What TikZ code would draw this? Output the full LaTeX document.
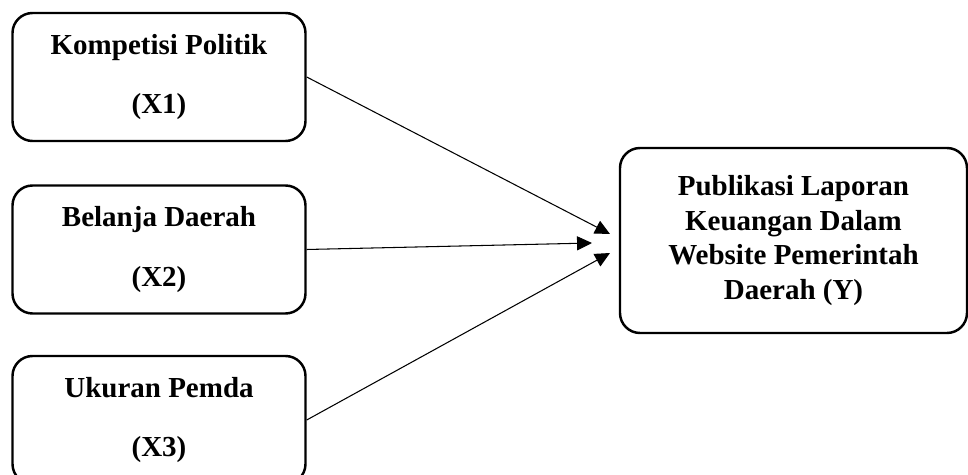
\documentclass[tikz,border=0pt]{standalone}
\usepackage{fontspec}
\setmainfont{Liberation Serif}
\usetikzlibrary{arrows.meta}
\begin{document}
\begin{tikzpicture}[
    box/.style={rectangle, draw, line width=1.4pt, rounded corners=0.4cm, minimum width=5.86cm, minimum height=2.56cm, align=center, font=\fontsize{16.5}{34}\selectfont\bfseries},
    arrow/.style={-{Triangle[length=8.5pt,width=8pt]}, line width=0.6pt}
]
    \useasboundingbox (0,0) rectangle (19.36,9.5);

    % Variabel independen kiri
    \node[box] (x1) at (3.18,7.96) {Kompetisi Politik\\(X1)};
    \node[box] (x2) at (3.18,4.51) {Belanja Daerah\\(X2)};
    \node[box] (x3) at (3.18,1.10) {Ukuran Pemda\\(X3)};

    % Variabel dependen kanan
    \node[box, minimum width=6.94cm, minimum height=3.7cm, font=\fontsize{16.5}{19.8}\selectfont\bfseries] (y) at (15.87,4.69) {Publikasi Laporan\\Keuangan Dalam\\Website Pemerintah\\Daerah (Y)};

    % Ujung panah
    \coordinate (in1) at (12.2,4.82);
    \coordinate (in2) at (11.84,4.64);
    \coordinate (in3) at (12.2,4.44);

    % Panah
    \draw[arrow] (x1.east) -- (in1);
    \draw[arrow] (x2.east) -- (in2);
    \draw[arrow] (x3.east) -- (in3);
\end{tikzpicture}
\end{document}
